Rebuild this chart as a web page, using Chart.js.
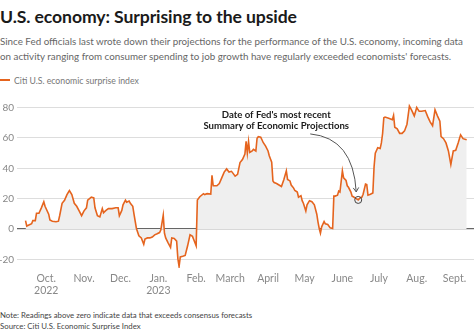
<!DOCTYPE html>
<html>
<head>
<meta charset="utf-8">
<script src="https://cdn.jsdelivr.net/npm/chart.js@4"></script>
<style>
  body { margin: 0; width: 474px; height: 333px; background: #fff; font-family: Lato, "Noto Sans", sans-serif; overflow: hidden; position: relative; }
  .title { position: absolute; left: 0; top: 6px; font-size: 17.6px; font-weight: 700; color: #1a1a1a; white-space: nowrap; letter-spacing: -0.1px; }
  .sub { position: absolute; left: 0; top: 33.5px; font-size: 9.8px; line-height: 15px; color: #666; white-space: nowrap; }
  .legend { position: absolute; left: 0; top: 74.5px; font-size: 8.7px; line-height: 11px; color: #777; white-space: nowrap; }
  .legend span { display: inline-block; width: 10px; height: 2px; background: #e5641e; vertical-align: middle; margin-right: 4px; position: relative; top: -1px; }
  .chartbox { position: absolute; left: 0; top: 90px; width: 474px; height: 214px; }
  .note { position: absolute; left: 0; top: 309.5px; font-size: 7.8px; line-height: 11px; color: #444; white-space: nowrap; }
</style>
</head>
<body>
<div class="title">U.S. economy: Surprising to the upside</div>
<div class="sub">Since Fed officials last wrote down their projections for the performance of the U.S. economy, incoming data<br>on activity ranging from consumer spending to job growth have regularly exceeded economists' forecasts.</div>
<div class="legend"><span></span>Citi U.S. economic surprise index</div>
<div class="chartbox"><canvas id="c"></canvas></div>
<div class="note">Note: Readings above zero indicate data that exceeds consensus forecasts<br>Source: Citi U.S. Economic Surprise Index</div>
<script>
// days counted from Oct. 1, 2022
const dayOffsets = [
  -17, -16, -12, -11, -9, -8, -6, -4, -2, -1, 2, 3, 5, 8, 10, 11, 13, 15, 17, 19,
  21, 23, 25, 27, 29, 31, 33, 34, 37, 39, 40, 42, 44, 46, 47, 49, 51, 54, 57, 59,
  60, 62, 63, 65, 66, 68, 69, 71, 72, 74, 76, 78, 80, 81, 83, 85, 87, 89, 91, 93,
  94, 96, 97, 98, 100, 102, 103, 105, 107, 108, 109, 110, 112, 114, 116, 118, 120, 121, 123, 124,
  126, 129, 130, 132, 135, 136, 137, 140, 142, 144, 146, 148, 150, 152, 153, 155, 157, 159, 161, 163,
  164, 165, 166, 167, 169, 170, 172, 173, 174, 176, 177, 178, 180, 182, 183, 185, 186, 187, 189, 191,
  193, 195, 197, 198, 200, 201, 203, 204, 206, 207, 209, 210, 211, 213, 214, 216, 218, 220, 222, 223,
  224, 225, 226, 228, 229, 231, 233, 235, 236, 237, 239, 240, 241, 243, 244, 246, 247, 248, 250, 251,
  252, 254, 256, 257, 259, 260, 262, 263, 264, 266, 268, 269, 270, 272, 274, 275, 276, 277, 278, 281,
  284, 285, 286, 288, 290, 292, 294, 296, 298, 300, 302, 304, 306, 308, 311, 313, 315, 317, 319, 321,
  323, 324, 326, 328, 330, 332, 334, 336, 338, 340, 342, 345
];
const surprise = [
  5.6, 2, 3.5, 5.6, 5.6, 10.4, 10.4, 14, 18, 15, 9.8, 6, 5.2, 4.8, 5.2, 8.8, 17, 19, 22.7, 25.4,
  22.7, 17, 15, 12, 8.8, 12, 14, 19, 21, 20.5, 14, 8.8, 8, 13.5, 10.8, 12.3, 13.5, 13.5, 14, 14,
  8.8, 12.3, 16, 19, 17.7, 18.5, 17, 15, 9.8, 0.4, -4.4, -5.8, -10, -6.5, -5.8, -5.8, -5.2, -3.8, -3.1, -2.3,
  -0.6, 9.2, -2.7, -5.8, -9, -12, -5.8, -6.2, -7.9, -19.4, -24.6, -18.3, -17.9, -17.3, -11, -3.8, -4.8, -6.9, -11, 19.2,
  21.3, 23.3, 22.7, 23.3, 23, 35.4, 28.5, 28.5, 30, 33.7, 37.5, 39.6, 37.5, 38, 37, 34.8, 36, 43.8, 45.8, 49.4,
  57.7, 50, 57.7, 50.4, 51.4, 52.5, 51.4, 59.8, 60.8, 60.5, 58.8, 57, 54.6, 51.4, 48.3, 44, 31.7, 30.6, 30, 29,
  28, 32.7, 38.3, 32.7, 31.7, 29, 27, 25.4, 24.4, 21, 22, 18.7, 17, 11.9, 16, 18.7, 18, 16, 9.8, 4.6,
  0.4, -2.7, 1.5, 5, 3.5, 3, 0.8, 0.4, 21.7, 21.7, 22.3, 25, 24.4, 38.3, 33.7, 32, 28.5, 27.5, 24.4, 21.7,
  21.3, 20.2, 19.2, 20.2, 21, 22.9, 29.6, 29.3, 22.3, 22.9, 23.8, 41, 50, 53.5, 53, 56.7, 62.9, 73.3, 73.7, 72.9,
  72, 74.8, 67, 66, 63, 63, 64.6, 69, 81, 78, 74.5, 80, 77.5, 77.5, 78, 74, 70.5, 68, 78.5, 74.5,
  71, 60.8, 59.5, 56.7, 51.4, 42.5, 51.4, 51.8, 56.7, 62, 59.5, 58.8
];
// month starts (days from Oct. 1, 2022) and their labels
const monthDays = [0, 31, 61, 92, 123, 151, 182, 212, 243, 273, 304, 335];
const monthLabels = [["Oct.", "2022"], "Nov.", "Dec.", ["Jan.", "2023"], "Feb.", "March", "April", "May", "June", "July", "Aug.", "Sept."];
const yTicks = [-20, 0, 20, 40, 60, 80];
const fedDay = 256; // June 14, 2023

const points = dayOffsets.map((d, i) => ({ x: d, y: surprise[i] }));

const annotation = {
  id: "fedNote",
  afterDatasetsDraw(chart) {
    const ctx = chart.ctx;
    const xs = chart.scales.x, ys = chart.scales.y;
    const idx = dayOffsets.indexOf(fedDay);
    const px = xs.getPixelForValue(fedDay);
    const py = ys.getPixelForValue(surprise[idx]);
    ctx.save();
    // circle
    ctx.strokeStyle = "#444";
    ctx.lineWidth = 1;
    ctx.beginPath();
    ctx.arc(px, py, 3.5, 0, Math.PI * 2);
    ctx.stroke();
    // text
    ctx.fillStyle = "#1a1a1a";
    ctx.font = "bold 9.6px Lato, sans-serif";
    ctx.textAlign = "center";
    ctx.textBaseline = "middle";
    ctx.fillText("Date of Fed's most recent", px - 82, py - 85);
    ctx.fillText("Summary of Economic Projections", px - 82, py - 74);
    // curved arrow
    const sx = px - 48, sy = py - 66;
    const ex = px - 2, ey = py - 8;
    ctx.strokeStyle = "#555";
    ctx.beginPath();
    ctx.moveTo(sx, sy);
    ctx.quadraticCurveTo(px - 5, py - 62, ex, ey);
    ctx.stroke();
    ctx.beginPath();
    ctx.moveTo(ex - 3, ey - 4);
    ctx.lineTo(ex, ey);
    ctx.lineTo(ex + 2.5, ey - 4.5);
    ctx.stroke();
    ctx.restore();
  }
};

new Chart(document.getElementById("c"), {
  type: "line",
  data: {
    datasets: [{
      data: points,
      borderColor: "#e5641e",
      backgroundColor: "#efefef",
      borderWidth: 1.6,
      fill: { value: 0 },
      pointRadius: 0,
      tension: 0
    }]
  },
  options: {
    responsive: true,
    maintainAspectRatio: false,
    animation: false,
    layout: { padding: { top: 0, right: 0, left: 0, bottom: 0 } },
    plugins: { legend: { display: false }, tooltip: { enabled: false } },
    scales: {
      x: {
        type: "linear",
        min: -24,
        max: 351,
        afterBuildTicks: s => { s.ticks = monthDays.map(v => ({ value: v })); },
        afterFit: s => { s.height = 36; },
        ticks: {
          autoSkip: false,
          maxRotation: 0,
          padding: 4,
          color: "#888",
          font: { family: "Lato", size: 10.5 },
          callback: v => monthLabels[monthDays.indexOf(v)]
        },
        grid: { display: false, drawTicks: false },
        border: { display: false }
      },
      y: {
        min: -25.6,
        max: 85.6,
        afterBuildTicks: s => { s.ticks = yTicks.map(v => ({ value: v })); },
        afterFit: s => { s.width = 17; },
        ticks: {
          padding: 3,
          color: "#888",
          font: { family: "Lato", size: 10 }
        },
        grid: {
          drawTicks: false,
          color: c => c.tick && c.tick.value === 0 ? "#666" : "#dddddd",
          lineWidth: c => c.tick && c.tick.value === 0 ? 1.3 : 1
        },
        border: { display: false }
      }
    }
  },
  plugins: [annotation]
});
</script>
</body>
</html>
